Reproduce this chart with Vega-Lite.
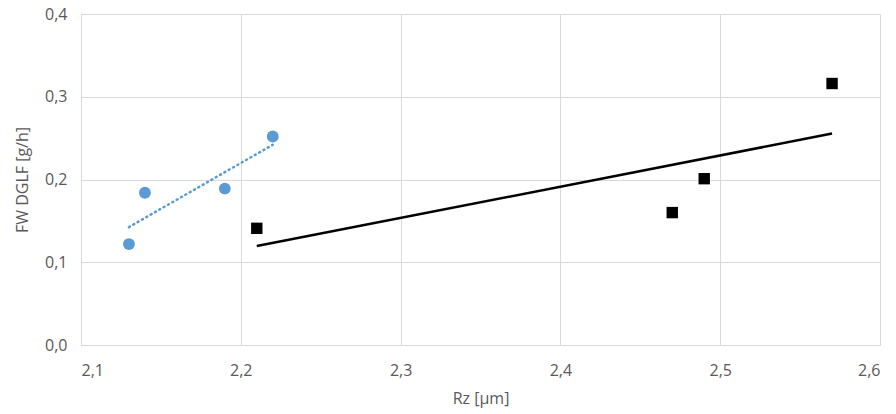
{
  "$schema": "https://vega.github.io/schema/vega-lite/v6.json",
  "width": 799,
  "height": 331,
  "autosize": {"type": "none"},
  "padding": {"left": 81, "top": 14, "right": 16, "bottom": 69},
  "background": "white",
  "config": {
    "view": {"stroke": null},
    "font": "Open Sans",
    "axis": {
      "labelFont": "Open Sans",
      "titleFont": "Open Sans",
      "labelColor": "#595959",
      "titleColor": "#595959",
      "labelFontSize": 16,
      "titleFontSize": 16,
      "titleFontWeight": "normal",
      "gridColor": "#d9d9d9",
      "domainColor": "#d9d9d9",
      "ticks": false
    }
  },
  "datasets": {
    "points": [
      {"series": "A", "x": 2.13, "y": 0.122},
      {"series": "A", "x": 2.14, "y": 0.184},
      {"series": "A", "x": 2.19, "y": 0.189},
      {"series": "A", "x": 2.22, "y": 0.252},
      {"series": "B", "x": 2.21, "y": 0.141},
      {"series": "B", "x": 2.47, "y": 0.160},
      {"series": "B", "x": 2.49, "y": 0.201},
      {"series": "B", "x": 2.57, "y": 0.316}
    ],
    "trends": [
      {"series": "A", "x": 2.13, "y": 0.1425},
      {"series": "A", "x": 2.22, "y": 0.242},
      {"series": "B", "x": 2.21, "y": 0.1196},
      {"series": "B", "x": 2.57, "y": 0.2555}
    ]
  },
  "encoding": {
    "x": {
      "field": "x", "type": "quantitative",
      "scale": {"domain": [2.1, 2.6], "nice": false, "zero": false},
      "axis": {
        "title": "Rz [µm]",
        "values": [2.1, 2.2, 2.3, 2.4, 2.5, 2.6],
        "labelExpr": "replace(format(datum.value, '.1f'), '.', ',')",
        "labelPadding": 17,
        "titlePadding": 12
      }
    },
    "y": {
      "field": "y", "type": "quantitative",
      "scale": {"domain": [0, 0.4], "nice": false},
      "axis": {
        "title": "FW DGLF [g/h]",
        "values": [0, 0.1, 0.2, 0.3, 0.4],
        "labelExpr": "replace(format(datum.value, '.1f'), '.', ',')",
        "labelPadding": 14,
        "titlePadding": 14
      }
    }
  },
  "layer": [
    {
      "data": {"name": "trends"},
      "transform": [{"filter": "datum.series === 'A'"}],
      "mark": {"type": "line", "color": "#5b9bd5", "strokeWidth": 2.5, "strokeDash": [1, 4], "strokeCap": "round"}
    },
    {
      "data": {"name": "trends"},
      "transform": [{"filter": "datum.series === 'B'"}],
      "mark": {"type": "line", "color": "#000000", "strokeWidth": 2.5}
    },
    {
      "data": {"name": "points"},
      "transform": [{"filter": "datum.series === 'A'"}],
      "mark": {"type": "point", "shape": "circle", "filled": true, "color": "#5b9bd5", "opacity": 1, "size": 140}
    },
    {
      "data": {"name": "points"},
      "transform": [{"filter": "datum.series === 'B'"}],
      "mark": {"type": "point", "shape": "square", "filled": true, "color": "#000000", "opacity": 1, "size": 130}
    }
  ]
}
